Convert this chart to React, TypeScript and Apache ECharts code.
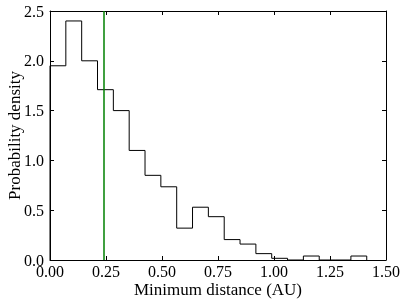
import React, { useEffect, useRef } from "react";
import * as echarts from "echarts";

// Histogram (step outline) of minimum distances
const binWidth = 0.0707;
const densities = [1.95, 2.4, 2.0, 1.71, 1.5, 1.1, 0.85, 0.735, 0.32, 0.53, 0.435, 0.205, 0.16, 0.064, 0.017, 0, 0.04, 0, 0, 0.04];
const markerDistance = 0.238;
const xTicks = [0, 0.25, 0.5, 0.75, 1.0, 1.25, 1.5];
const yTicks = [0, 0.5, 1.0, 1.5, 2.0, 2.5];

const FONT = "Liberation Serif, DejaVu Serif, serif";

export default function App() {
  const ref = useRef<HTMLDivElement>(null);
  useEffect(() => {
    if (!ref.current) return;
    const chart = echarts.init(ref.current, null, { renderer: "svg" });
    const pts: [number, number][] = [[0, 0]];
    densities.forEach((d, i) => {
      pts.push([i * binWidth, d]);
      pts.push([(i + 1) * binWidth, d]);
    });
    pts.push([densities.length * binWidth, 0]);

    const axisCommon = {
      axisLine: { show: true, onZero: false, lineStyle: { color: "#000", width: 1 } },
      axisTick: { show: true, inside: true, length: 4, lineStyle: { color: "#000", width: 1 } },
      splitLine: { show: false },
    };
    const labelStyle = { color: "#000", fontFamily: FONT, fontSize: 16, lineHeight: 14 };

    chart.setOption({
      animation: false,
      grid: { left: 50, right: 21, top: 11, bottom: 45, containLabel: false, outerBoundsMode: "none" },
      xAxis: [
        {
          type: "value",
          min: xTicks[0],
          max: xTicks[xTicks.length - 1],
          interval: 0.25,
          position: "bottom",
          ...axisCommon,
          axisLabel: { ...labelStyle, margin: 4, formatter: (v: number) => v.toFixed(2) },
          name: "Minimum distance (AU)",
          nameLocation: "middle",
          nameGap: 21,
          nameMoveOverlap: false,
          nameTextStyle: { color: "#000", fontFamily: FONT, fontSize: 17, lineHeight: 17 },
        },
        {
          type: "value",
          min: xTicks[0],
          max: xTicks[xTicks.length - 1],
          interval: 0.25,
          position: "top",
          ...axisCommon,
          axisLabel: { show: false },
        },
      ],
      yAxis: [
        {
          type: "value",
          min: yTicks[0],
          max: yTicks[yTicks.length - 1],
          interval: 0.5,
          position: "left",
          ...axisCommon,
          axisLabel: { ...labelStyle, margin: 6, formatter: (v: number) => v.toFixed(1) },
          name: "Probability density",
          nameLocation: "middle",
          nameGap: 27,
          nameMoveOverlap: false,
          nameTextStyle: { color: "#000", fontFamily: FONT, fontSize: 17, lineHeight: 17 },
        },
        {
          type: "value",
          min: yTicks[0],
          max: yTicks[yTicks.length - 1],
          interval: 0.5,
          position: "right",
          ...axisCommon,
          axisLabel: { show: false },
        },
      ],
      series: [
        {
          type: "line",
          data: pts,
          symbol: "none",
          lineStyle: { color: "#000", width: 1 },
          markLine: {
            silent: true,
            symbol: "none",
            label: { show: false },
            lineStyle: { color: "#008000", width: 1.5, type: "solid" },
            data: [{ xAxis: markerDistance }],
          },
        },
      ],
    });
    return () => chart.dispose();
  }, []);
  return <div ref={ref} style={{ position: "fixed", left: 0, top: 0, width: 407, height: 305 }} />;
}
